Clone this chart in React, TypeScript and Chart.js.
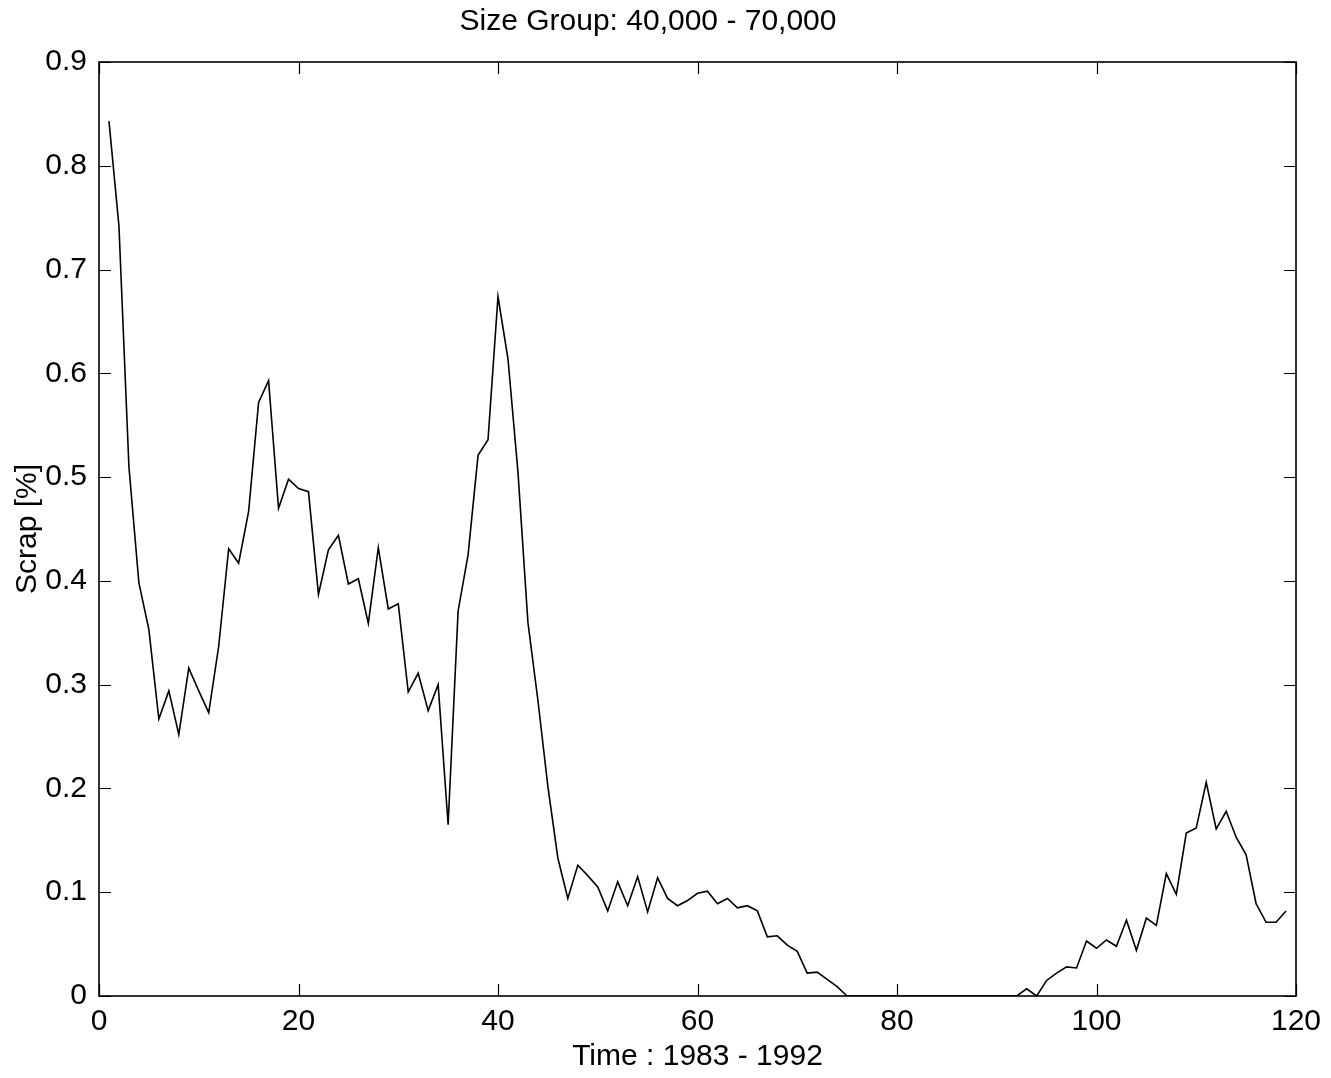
import React, { useEffect, useRef } from "react";
import { Chart, registerables } from "chart.js";

Chart.register(...registerables);

const TITLE = "Size Group: 40,000 - 70,000";
const X_TITLE = "Time : 1983 - 1992";
const Y_TITLE = "Scrap [%]";

// Scrap % for time steps 1..119
const scrapValues: number[] = [
  0.843, 0.742, 0.51, 0.398, 0.353, 0.267, 0.294, 0.252, 0.316, 0.294,
  0.273, 0.337, 0.431, 0.417, 0.467, 0.572, 0.593, 0.47, 0.498, 0.489,
  0.486, 0.387, 0.43, 0.444, 0.397, 0.402, 0.359, 0.432, 0.373, 0.378,
  0.293, 0.311, 0.275, 0.3, 0.165, 0.371, 0.425, 0.521, 0.536, 0.674,
  0.614, 0.505, 0.36, 0.285, 0.202, 0.133, 0.094, 0.126, 0.116, 0.105,
  0.082, 0.11, 0.087, 0.115, 0.081, 0.114, 0.094, 0.087, 0.092, 0.099,
  0.101, 0.089, 0.094, 0.085, 0.087, 0.082, 0.057, 0.058, 0.049, 0.043,
  0.022, 0.023, 0.016, 0.009, 0,
  0, 0, 0, 0, 0, 0, 0, 0, 0, 0, 0, 0, 0, 0, 0, 0,
  0, 0.007, 0, 0.015, 0.022, 0.028, 0.027, 0.053, 0.046, 0.054,
  0.048, 0.073, 0.044, 0.075, 0.068, 0.118, 0.098, 0.157, 0.162, 0.206,
  0.161, 0.178, 0.153, 0.136, 0.089, 0.071, 0.071, 0.082,
];
const FIRST_TIME = 1;

const X_MIN = 0;
const X_MAX = 120;
const X_STEP = 20;
const Y_MIN = 0;
const Y_MAX = 0.9;
const Y_STEP = 0.1;

const FONT = "'Liberation Sans', Arial, Helvetica, sans-serif";

const framePlugin = {
  id: "frameTicks",
  afterDatasetsDraw(chart: any) {
    const { ctx, chartArea, scales } = chart;
    const { left, right, top, bottom } = chartArea;
    const xs = scales.x;
    const ys = scales.y;
    const len = 12;
    ctx.save();
    ctx.strokeStyle = "#000";
    ctx.lineWidth = 1.2;
    xs.ticks.forEach((t: any) => {
      const px = Math.round(xs.getPixelForValue(t.value)) + 0.5;
      ctx.beginPath();
      ctx.moveTo(px, bottom);
      ctx.lineTo(px, bottom - len);
      ctx.moveTo(px, top);
      ctx.lineTo(px, top + len);
      ctx.stroke();
    });
    ys.ticks.forEach((t: any) => {
      const py = Math.round(ys.getPixelForValue(t.value)) + 0.5;
      ctx.beginPath();
      ctx.moveTo(left, py);
      ctx.lineTo(left + len, py);
      ctx.moveTo(right, py);
      ctx.lineTo(right - len, py);
      ctx.stroke();
    });
    ctx.lineWidth = 1.6;
    ctx.strokeRect(left, top, right - left, bottom - top);
    ctx.restore();
  },
};

export default function App() {
  const canvasRef = useRef<HTMLCanvasElement | null>(null);

  useEffect(() => {
    const canvas = canvasRef.current;
    if (!canvas) return;
    const points = scrapValues.map((v, i) => ({ x: FIRST_TIME + i, y: v }));
    const chart = new Chart(canvas, {
      type: "line",
      data: {
        datasets: [
          {
            data: points,
            borderColor: "#000",
            borderWidth: 1.6,
            pointRadius: 0,
            tension: 0,
            fill: false,
          },
        ],
      },
      options: {
        animation: false,
        responsive: false,
        maintainAspectRatio: false,
        layout: { padding: { left: 0, right: 35, top: 0, bottom: 0 } },
        plugins: {
          legend: { display: false },
          tooltip: { enabled: false },
          title: {
            display: true,
            text: TITLE,
            color: "#000",
            font: { family: FONT, size: 30, weight: "normal" },
            padding: { top: 4, bottom: 22 },
          },
        },
        scales: {
          x: {
            type: "linear",
            min: X_MIN,
            max: X_MAX,
            grid: { display: false },
            border: { display: false },
            ticks: {
              stepSize: X_STEP,
              color: "#000",
              font: { family: FONT, size: 30 },
              padding: 0,
              maxRotation: 0,
            },
            title: {
              display: true,
              text: X_TITLE,
              color: "#000",
              font: { family: FONT, size: 30 },
              padding: { top: 0, bottom: 3 },
            },
            afterFit(scale: any) {
              scale.height = 82;
            },
          },
          y: {
            type: "linear",
            min: Y_MIN,
            max: Y_MAX,
            grid: { display: false },
            border: { display: false },
            ticks: {
              stepSize: Y_STEP,
              color: "#000",
              font: { family: FONT, size: 30 },
              padding: 4,
              callback: (v: any) => (Number(v) === 0 ? "0" : Number(v).toFixed(1)),
            },
            title: {
              display: true,
              text: Y_TITLE,
              color: "#000",
              font: { family: FONT, size: 30 },
              padding: { top: 10, bottom: 0 },
            },
            afterFit(scale: any) {
              scale.width = 99;
            },
          },
        },
      },
      plugins: [framePlugin],
    });
    return () => chart.destroy();
  }, []);

  return (
    <div
      style={{
        position: "absolute",
        left: 0,
        top: 0,
        width: 1331,
        height: 1078,
        background: "#fff",
      }}
    >
      <canvas ref={canvasRef} width={1331} height={1078} />
    </div>
  );
}
